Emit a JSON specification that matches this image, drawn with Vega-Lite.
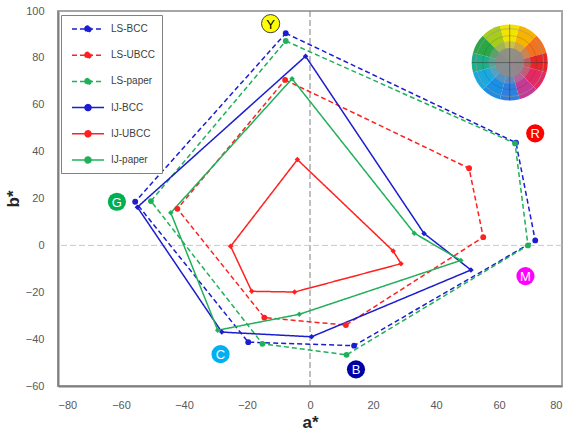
{
  "$schema": "https://vega.github.io/schema/vega-lite/v6.json",
  "width": 504,
  "height": 375,
  "autosize": "none",
  "padding": {"left": 58, "top": 11, "right": 8, "bottom": 46},
  "config": {
    "font": "Liberation Sans",
    "view": {"stroke": "#a6a6a6", "strokeWidth": 2},
    "axis": {"grid": false, "ticks": false, "labelColor": "#595959", "labelFontSize": 11, "domainColor": "#7f7f7f", "domainWidth": 2, "titleColor": "#262626", "titleFontSize": 17, "titleFontWeight": "bold"},
    "axisX": {"labelPadding": 13, "titlePadding": 4},
    "axisY": {"labelPadding": 14, "titlePadding": 3}
  },
  "datasets": {
    "polys": [
      {"series": "LS-BCC", "k": 0, "a": -7.7, "b": 90.5},
      {"series": "LS-BCC", "k": 1, "a": 65.4, "b": 43.8},
      {"series": "LS-BCC", "k": 2, "a": 71.5, "b": 2.1},
      {"series": "LS-BCC", "k": 3, "a": 14.0, "b": -42.8},
      {"series": "LS-BCC", "k": 4, "a": -19.6, "b": -41.3},
      {"series": "LS-BCC", "k": 5, "a": -55.5, "b": 18.6},
      {"series": "LS-UBCC", "k": 0, "a": -7.9, "b": 70.6},
      {"series": "LS-UBCC", "k": 1, "a": 50.5, "b": 32.9},
      {"series": "LS-UBCC", "k": 2, "a": 55.0, "b": 3.5},
      {"series": "LS-UBCC", "k": 3, "a": 11.4, "b": -34.0},
      {"series": "LS-UBCC", "k": 4, "a": -14.5, "b": -30.8},
      {"series": "LS-UBCC", "k": 5, "a": -42.1, "b": 15.6},
      {"series": "LS-paper", "k": 0, "a": -7.7, "b": 87.2},
      {"series": "LS-paper", "k": 1, "a": 65.1, "b": 43.5},
      {"series": "LS-paper", "k": 2, "a": 69.2, "b": 0.0},
      {"series": "LS-paper", "k": 3, "a": 11.6, "b": -46.7},
      {"series": "LS-paper", "k": 4, "a": -15.1, "b": -42.0},
      {"series": "LS-paper", "k": 5, "a": -50.5, "b": 18.9},
      {"series": "IJ-BCC", "k": 0, "a": -1.4, "b": 80.7},
      {"series": "IJ-BCC", "k": 1, "a": 36.2, "b": 5.1},
      {"series": "IJ-BCC", "k": 2, "a": 51.1, "b": -10.5},
      {"series": "IJ-BCC", "k": 3, "a": 0.5, "b": -39.0},
      {"series": "IJ-BCC", "k": 4, "a": -28.0, "b": -37.0},
      {"series": "IJ-BCC", "k": 5, "a": -54.8, "b": 16.3},
      {"series": "IJ-UBCC", "k": 0, "a": -4.0, "b": 36.6},
      {"series": "IJ-UBCC", "k": 1, "a": 26.4, "b": -2.4},
      {"series": "IJ-UBCC", "k": 2, "a": 28.9, "b": -7.8},
      {"series": "IJ-UBCC", "k": 3, "a": -4.9, "b": -19.9},
      {"series": "IJ-UBCC", "k": 4, "a": -18.5, "b": -19.6},
      {"series": "IJ-UBCC", "k": 5, "a": -25.2, "b": -0.4},
      {"series": "IJ-paper", "k": 0, "a": -5.7, "b": 71.1},
      {"series": "IJ-paper", "k": 1, "a": 33.1, "b": 5.2},
      {"series": "IJ-paper", "k": 2, "a": 47.9, "b": -6.4},
      {"series": "IJ-paper", "k": 3, "a": -3.4, "b": -29.4},
      {"series": "IJ-paper", "k": 4, "a": -29.3, "b": -36.2},
      {"series": "IJ-paper", "k": 5, "a": -44.2, "b": 13.9}
    ],
    "labels": [
      {"label": "Y", "a": -12.5, "b": 94.6},
      {"label": "R", "a": 71.5, "b": 47.8},
      {"label": "M", "a": 68.4, "b": -13.1},
      {"label": "B", "a": 14.6, "b": -52.9},
      {"label": "C", "a": -28.4, "b": -46.4},
      {"label": "G", "a": -61.3, "b": 18.6}
    ],
    "wheelCenter": [{"a": 63.4, "b": 78.0}],
    "wheel": [
      {"hue": "h0", "k": 0, "v": 1, "a": 63.4, "b": 78.0},
      {"hue": "h1", "k": 1, "v": 1, "a": 63.4, "b": 78.0},
      {"hue": "h2", "k": 2, "v": 1, "a": 63.4, "b": 78.0},
      {"hue": "h3", "k": 3, "v": 1, "a": 63.4, "b": 78.0},
      {"hue": "h4", "k": 4, "v": 1, "a": 63.4, "b": 78.0},
      {"hue": "h5", "k": 5, "v": 1, "a": 63.4, "b": 78.0},
      {"hue": "h6", "k": 6, "v": 1, "a": 63.4, "b": 78.0},
      {"hue": "h7", "k": 7, "v": 1, "a": 63.4, "b": 78.0},
      {"hue": "h8", "k": 8, "v": 1, "a": 63.4, "b": 78.0},
      {"hue": "h9", "k": 9, "v": 1, "a": 63.4, "b": 78.0},
      {"hue": "h10", "k": 10, "v": 1, "a": 63.4, "b": 78.0},
      {"hue": "h11", "k": 11, "v": 1, "a": 63.4, "b": 78.0}
    ],
    "wheelCross": [
      {"a1": 51.4, "a2": 75.4, "b1": 78.0, "b2": 78.0},
      {"a1": 63.4, "a2": 63.4, "b1": 61.8, "b2": 94.2}
    ]
  },
  "layer": [
    {
      "data": {"values": [{"a": 0}]},
      "mark": {"type": "rule", "color": "#7f7f7f", "strokeDash": [6, 3], "strokeWidth": 1},
      "encoding": {
        "x": {"field": "a", "type": "quantitative", "title": "a*", "scale": {"domain": [-80, 80], "nice": false, "zero": false}, "axis": {"values": [-80, -60, -40, -20, 0, 20, 40, 60, 80]}}
      }
    },
    {
      "data": {"values": [{"b": 0}]},
      "mark": {"type": "rule", "color": "#c8c8c8", "strokeDash": [6, 3], "strokeWidth": 1},
      "encoding": {
        "y": {"field": "b", "type": "quantitative", "title": "b*", "scale": {"domain": [-60, 100], "nice": false, "zero": false}, "axis": {"values": [-60, -40, -20, 0, 20, 40, 60, 80, 100]}}
      }
    },
    {
      "data": {"name": "wheel"},
      "mark": {"type": "arc", "outerRadius": 38},
      "encoding": {
        "x": {"field": "a", "type": "quantitative", "title": "a*"},
        "y": {"field": "b", "type": "quantitative", "title": "b*"},
        "theta": {"field": "v", "type": "quantitative", "stack": true, "scale": {"range": [-0.2618, 6.0214]}},
        "order": {"field": "k"},
        "fill": {"field": "hue", "type": "nominal", "legend": null, "scale": {"domain": ["h0", "h1", "h2", "h3", "h4", "h5", "h6", "h7", "h8", "h9", "h10", "h11"], "range": ["#f3e400", "#f6b400", "#f2731f", "#e8262a", "#e32a63", "#c43a95", "#2f7fe0", "#1a8fe6", "#19a9e0", "#1fae8a", "#2aa846", "#a8cc1c"]}}
      }
    },
    {
      "data": {"name": "wheelCenter"},
      "mark": {"type": "point", "filled": true, "shape": "circle", "size": 1800, "color": "#9a9a9a", "opacity": 0.45},
      "encoding": {
        "x": {"field": "a", "type": "quantitative", "title": "a*"},
        "y": {"field": "b", "type": "quantitative", "title": "b*"}
      }
    },
    {
      "data": {"name": "wheelCenter"},
      "mark": {"type": "point", "filled": true, "shape": "circle", "size": 850, "color": "#8c8c8c", "opacity": 0.9},
      "encoding": {
        "x": {"field": "a", "type": "quantitative", "title": "a*"},
        "y": {"field": "b", "type": "quantitative", "title": "b*"}
      }
    },
    {
      "data": {"name": "wheelCenter"},
      "mark": {"type": "point", "filled": false, "shape": "circle", "size": 2900, "color": "#333333", "strokeWidth": 0.5, "opacity": 0.4},
      "encoding": {
        "x": {"field": "a", "type": "quantitative", "title": "a*"},
        "y": {"field": "b", "type": "quantitative", "title": "b*"}
      }
    },
    {
      "data": {"name": "wheelCenter"},
      "mark": {"type": "point", "filled": false, "shape": "circle", "size": 4600, "color": "#999999", "strokeWidth": 1, "opacity": 0.6},
      "encoding": {
        "x": {"field": "a", "type": "quantitative", "title": "a*"},
        "y": {"field": "b", "type": "quantitative", "title": "b*"}
      }
    },
    {
      "data": {"name": "wheelCross"},
      "mark": {"type": "rule", "color": "#333333", "strokeWidth": 0.7, "opacity": 0.7},
      "encoding": {
        "x": {"field": "a1", "type": "quantitative", "title": "a*"},
        "x2": {"field": "a2"},
        "y": {"field": "b1", "type": "quantitative", "title": "b*"},
        "y2": {"field": "b2"}
      }
    },
    {
      "data": {"name": "polys"},
      "mark": {"type": "line", "interpolate": "linear-closed", "strokeWidth": 1.5},
      "encoding": {
        "x": {"field": "a", "type": "quantitative", "title": "a*"},
        "y": {"field": "b", "type": "quantitative", "title": "b*"},
        "order": {"field": "k"},
        "color": {
          "field": "series", "type": "nominal",
          "scale": {"domain": ["LS-BCC", "LS-UBCC", "LS-paper", "IJ-BCC", "IJ-UBCC", "IJ-paper"], "range": ["#1c1cd0", "#ff2020", "#20b05a", "#1c1cd0", "#ff2020", "#20b05a"]},
          "legend": {
            "orient": "none", "legendX": 3, "legendY": 4, "title": null,
            "symbolType": "M-2.67,0H2.67M-0.5,0A0.5,0.5,0,1,1,0.5,0A0.5,0.5,0,1,1,-0.5,0Z",
            "symbolSize": 144, "symbolOffset": 13, "labelOffset": 16, "rowPadding": 13.2, "padding": 7,
            "strokeColor": "#808080", "fillColor": "#ffffff", "labelFontSize": 10, "labelColor": "#404040", "symbolStrokeWidth": 1.5,
            "encode": {"symbols": {"update": {"fill": {"scale": "color", "field": "value"}}}}
          }
        },
        "strokeDash": {
          "field": "series", "type": "nominal",
          "scale": {"domain": ["LS-BCC", "LS-UBCC", "LS-paper", "IJ-BCC", "IJ-UBCC", "IJ-paper"], "range": [[5, 3], [5, 3], [5, 3], [1, 0], [1, 0], [1, 0]]}
        }
      }
    },
    {
      "data": {"name": "polys"},
      "transform": [{"filter": "indexof(datum.series, 'LS') === 0"}],
      "mark": {"type": "point", "filled": true, "opacity": 1, "size": 34, "shape": "circle"},
      "encoding": {
        "x": {"field": "a", "type": "quantitative", "title": "a*"},
        "y": {"field": "b", "type": "quantitative", "title": "b*"},
        "color": {"field": "series", "type": "nominal", "legend": null}
      }
    },
    {
      "data": {"name": "polys"},
      "transform": [{"filter": "indexof(datum.series, 'IJ') === 0"}],
      "mark": {"type": "point", "filled": true, "opacity": 1, "size": 30, "shape": "diamond"},
      "encoding": {
        "x": {"field": "a", "type": "quantitative", "title": "a*"},
        "y": {"field": "b", "type": "quantitative", "title": "b*"},
        "color": {"field": "series", "type": "nominal", "legend": null}
      }
    },
    {
      "data": {"name": "labels"},
      "mark": {"type": "point", "filled": true, "shape": "circle", "size": 330, "opacity": 1, "strokeWidth": 1},
      "encoding": {
        "x": {"field": "a", "type": "quantitative", "title": "a*"},
        "y": {"field": "b", "type": "quantitative", "title": "b*"},
        "fill": {"field": "label", "type": "nominal", "legend": null, "scale": {"domain": ["Y", "R", "M", "B", "C", "G"], "range": ["#ffff00", "#ff0000", "#ff00ff", "#0000a8", "#00b0f0", "#00b050"]}},
        "stroke": {"condition": {"test": "datum.label === 'Y'", "value": "#404040"}, "value": null}
      }
    },
    {
      "data": {"name": "labels"},
      "mark": {"type": "text", "fontSize": 13, "align": "center", "baseline": "middle", "dy": 1},
      "encoding": {
        "x": {"field": "a", "type": "quantitative", "title": "a*"},
        "y": {"field": "b", "type": "quantitative", "title": "b*"},
        "text": {"field": "label"},
        "color": {"condition": {"test": "datum.label === 'Y'", "value": "#000000"}, "value": "#ffffff"}
      }
    }
  ],
  "resolve": {"scale": {"fill": "independent"}}
}
